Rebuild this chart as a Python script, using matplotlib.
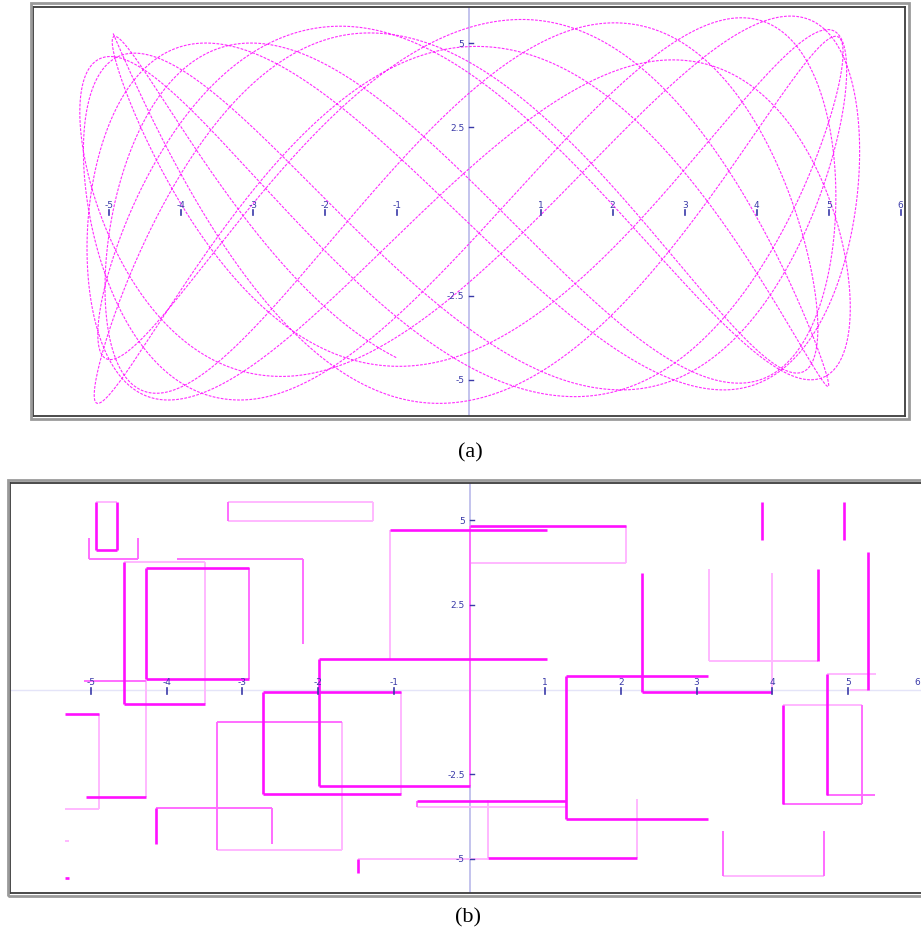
import numpy as np
import matplotlib
matplotlib.use("Agg")
import matplotlib.pyplot as plt
from matplotlib.collections import LineCollection
from matplotlib.patches import Rectangle

# ---- panel (a): continuous trajectory, read as successive turning values ----
x_peaks = [-5.0, 5.2, -5.4, 5.43, -5.3, 5.3, -5.15, 5.0,
           -5.2, 4.85, -5.05, 5.1, -5.35, 5.25, -4.95, 5.15]
y_peaks = [5.6, -5.7, 5.2, -5.5, 4.6, -4.9, 5.8, -5.3, 5.0, -5.6, 4.5, -5.0,
           5.5, -4.4, 5.7, -5.2, 4.9, -5.7, 5.3, -4.8, 5.6, -5.4, 5.0, -5.1,
           5.75, -5.6, 4.7, -5.3, 5.4, -4.6, 5.2, -5.0]
y_swings_per_x_swing = 2.137
start_swing = 0.05
end_swing = 14.43

# ---- panel (b): discretised trajectory, axis-aligned moves (x0, y0, x1, y1) ----
strong_moves = [
    (-4.94, 5.53, -4.94, 4.12), (-4.94, 4.12, -4.65, 4.12), (-4.65, 4.12, -4.65, 5.53),
    (-4.56, 3.76, -4.56, -0.44), (-4.56, -0.44, -3.49, -0.44),
    (-4.28, 0.32, -4.28, 3.60), (-4.28, 3.60, -2.91, 3.60), (-2.91, 0.32, -4.28, 0.32),
    (-4.28, -3.17, -5.06, -3.17), (-5.34, -0.71, -4.90, -0.71),
    (-5.34, -5.56, -5.29, -5.56), (-4.14, -4.56, -4.14, -3.49),
    (-2.73, -0.08, -2.73, -3.10), (-2.73, -0.08, -0.91, -0.08), (-2.73, -3.10, -0.91, -3.10),
    (-1.99, 0.89, -1.99, -2.86), (-1.99, 0.89, 1.03, 0.89), (-1.99, -2.86, 0.0, -2.86),
    (-1.05, 4.71, 1.03, 4.71), (0.0, 4.83, 2.07, 4.83),
    (2.28, 3.44, 2.28, -0.07), (2.28, -0.07, 3.99, -0.07),
    (4.61, 0.84, 4.61, 3.56), (3.86, 5.54, 3.86, 4.42), (4.95, 5.54, 4.95, 4.42),
    (5.26, 4.06, 5.26, 0.0), (4.72, 0.47, 4.72, -3.11), (4.14, -0.47, 4.14, -3.37),
    (1.28, 0.39, 3.15, 0.39), (1.28, 0.39, 1.28, -3.84), (1.28, -3.84, 3.15, -3.84),
    (-0.70, -3.30, 1.28, -3.30), (0.25, -4.98, 2.21, -4.98), (-1.47, -5.0, -1.47, -5.43),
]
medium_moves = [
    (-5.03, 4.47, -5.03, 3.85), (-5.03, 3.85, -4.38, 3.85), (-4.38, 3.85, -4.38, 4.47),
    (-3.87, 3.87, -2.20, 3.87), (-2.20, 3.87, -2.20, 1.36),
    (-2.91, 3.60, -2.91, 0.32), (-5.09, 0.26, -4.28, 0.26),
    (-4.14, -3.49, -2.61, -3.49), (-2.61, -3.49, -2.61, -4.56),
    (-3.33, -0.97, -1.68, -0.97), (-3.33, -0.97, -3.33, -4.73),
    (0.0, -2.86, 0.0, 4.83), (4.72, -3.11, 5.36, -3.11),
    (5.18, -0.47, 5.18, -3.37), (4.14, -3.37, 5.18, -3.37),
    (3.35, -4.19, 3.35, -5.52), (4.68, -5.52, 4.68, -4.19),
    (-0.70, -3.30, -0.70, -3.48), (-3.19, 5.53, -3.19, 4.98),
]
faint_moves = [
    (-4.65, 5.53, -4.94, 5.53),
    (-3.19, 4.98, -1.27, 4.98), (-1.27, 4.98, -1.27, 5.53), (-1.27, 5.53, -3.19, 5.53),
    (-3.49, -0.44, -3.49, 3.76), (-3.49, 3.76, -4.56, 3.76),
    (-4.28, 0.26, -4.28, -3.17), (-4.90, -0.71, -4.90, -3.53), (-4.90, -3.53, -5.34, -3.53),
    (-5.34, -4.47, -5.29, -4.47),
    (-3.33, -4.73, -1.68, -4.73), (-1.68, -0.97, -1.68, -4.73), (-0.91, -0.08, -0.91, -3.10),
    (-1.05, 4.71, -1.05, 0.91), (2.07, 4.83, 2.07, 3.74), (2.07, 3.74, 0.0, 3.74),
    (3.99, -0.07, 3.99, 3.44), (3.17, 3.56, 3.17, 0.84), (3.17, 0.84, 4.61, 0.84),
    (5.26, 0.0, 5.03, 0.0), (5.37, 0.47, 4.72, 0.47), (4.14, -0.47, 5.18, -0.47),
    (3.35, -5.52, 4.68, -5.52), (-0.70, -3.48, 1.28, -3.48),
    (0.25, -3.27, 0.25, -4.98), (2.21, -4.98, 2.21, -3.25), (-1.47, -5.0, 0.25, -5.0),
]

x_ticks = [-5, -4, -3, -2, -1, 1, 2, 3, 4, 5, 6]
y_ticks = [5, 2.5, -2.5, -5]
y_tick_labels = ["5", "2.5", "-2.5", "-5"]

TICK_COLOR = "#3a3aa8"
AXIS_COLOR = "#b9b9ea"


def swing(peaks, s):
    peaks = np.asarray(peaks, dtype=float)
    k = np.clip(np.floor(s).astype(int), 0, len(peaks) - 2)
    u = s - k
    return peaks[k] + (peaks[k + 1] - peaks[k]) * (1 - np.cos(np.pi * u)) / 2


def draw_axes(ax, label_dy, show_xaxis, last_x_label_at=None):
    if show_xaxis:
        ax.axhline(0, color="#e4e4f8", lw=1.0, zorder=1)
    ax.axvline(0, color=AXIS_COLOR, lw=1.2, zorder=1)
    for xv in x_ticks:
        ax.plot([xv, xv], [-0.12, 0.05], color=TICK_COLOR, lw=1.2, zorder=4)
        if xv == x_ticks[-1] and last_x_label_at is not None:
            ax.text(last_x_label_at, label_dy, str(xv), color=TICK_COLOR, fontsize=6.5,
                    ha="right", va="center", zorder=4)
        else:
            ax.text(xv, label_dy, str(xv), color=TICK_COLOR, fontsize=6.5,
                    ha="center", va="center", zorder=4)
    for yv, lab in zip(y_ticks, y_tick_labels):
        ax.plot([0, 0.06], [yv, yv], color=TICK_COLOR, lw=1.0, zorder=4)
        ax.text(-0.06, yv, lab, color=TICK_COLOR, fontsize=6.5,
                ha="right", va="center", zorder=4)
    ax.set_xticks([])
    ax.set_yticks([])
    for sp in ax.spines.values():
        sp.set_color("#3c3c3c")
        sp.set_linewidth(1.3)


fig = plt.figure(figsize=(9.21, 9.45), dpi=100)
W, H = 921.0, 945.0


def px_axes(left, top, right, bottom):
    return fig.add_axes([left / W, 1 - bottom / H, (right - left) / W, (bottom - top) / H])


# (a)
ax_a = px_axes(33, 8, 905, 416.5)
ax_a.set_xlim(-6.05, 6.06)
ax_a.set_ylim(-6.06, 6.07)
s = np.linspace(start_swing, end_swing, 8000)
xa = swing(x_peaks, s)
ya = swing(y_peaks, s * y_swings_per_x_swing)
ax_a.plot(xa, ya, color="#ff2cff", lw=0.8, ls=(0, (2.5, 1.2)), zorder=3)
draw_axes(ax_a, 0.22, False)

# (b)
ax_b = px_axes(10, 483.5, 929, 893.5)
ax_b.set_xlim(-6.07, 6.07)
ax_b.set_ylim(-6.0, 6.12)
draw_axes(ax_b, 0.25, True, last_x_label_at=5.95)
for moves, col, lw in [(faint_moves, "#ffb8ff", 1.4),
                       (medium_moves, "#ff6cff", 1.4),
                       (strong_moves, "#ff10ff", 1.9)]:
    segs = [[(m[0], m[1]), (m[2], m[3])] for m in moves]
    ax_b.add_collection(LineCollection(segs, colors=col, linewidths=lw, zorder=3))

# gray outer borders
for l, t, r, b in [(30.5, 3.5, 909, 420), (7.5, 480.5, 940, 897)]:
    fig.patches.append(Rectangle((l / W, 1 - b / H), (r - l) / W, (b - t) / H,
                                 transform=fig.transFigure, fill=False,
                                 ec="#9a9a9a", lw=2.0))

fig.text(470 / W, 1 - 453 / H, "(a)", family="Liberation Serif", fontsize=16,
         ha="center", va="center")
fig.text(468 / W, 1 - 918 / H, "(b)", family="Liberation Serif", fontsize=16,
         ha="center", va="center")

fig.savefig("out.png", dpi=100, facecolor="white")
